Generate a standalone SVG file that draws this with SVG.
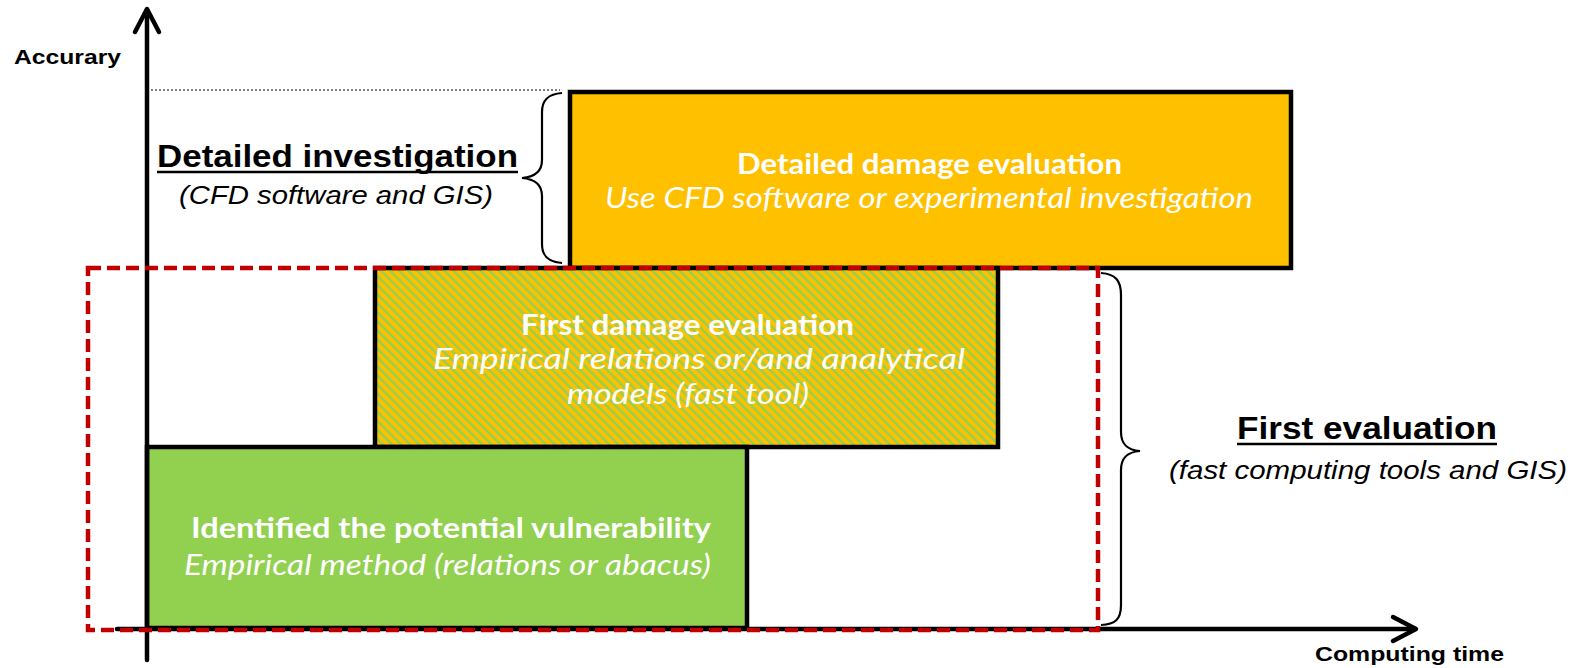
<svg xmlns="http://www.w3.org/2000/svg" width="1580" height="668" viewBox="0 0 1580 668">
<defs>
<pattern id="hatch" patternUnits="userSpaceOnUse" width="6.4" height="10" patternTransform="rotate(-45)">
<rect x="0" y="0" width="6.4" height="10" fill="#FFC000"/>
<rect x="0" y="0" width="2.4" height="10" fill="#92D050"/>
</pattern>
<style>
.box{stroke:#000;stroke-width:4.5}
.bt{font-family:Lato,"Open Sans",sans-serif;font-size:28px;fill:#fff;text-anchor:start}
.b{font-weight:bold}
.i{font-style:italic}
.lab{font-family:"Liberation Sans",Arial,sans-serif;fill:#000}
.ax{stroke:#000;stroke-width:4.5;fill:none;stroke-linecap:round;stroke-linejoin:round}
.brace{stroke:#000;stroke-width:2.2;fill:none}
</style>
</defs>
<rect width="1580" height="668" fill="#fff"/>

<line x1="151" y1="90" x2="560" y2="90" stroke="#555" stroke-width="1.5" stroke-dasharray="2 2"/>

<g id="detailed-damage">
<rect class="box" x="570" y="92" width="721" height="176" fill="#FFC000"/>
<text class="bt b" x="737" y="174" textLength="385" lengthAdjust="spacingAndGlyphs">Detailed damage evaluation</text>
<text class="bt i" x="605" y="208" textLength="648" lengthAdjust="spacingAndGlyphs">Use CFD software or experimental investigation</text>
</g>

<g id="first-damage">
<rect class="box" x="375" y="268" width="623" height="179" fill="url(#hatch)"/>
<text class="bt b" x="521" y="335" textLength="333" lengthAdjust="spacingAndGlyphs">First damage evaluation</text>
<text class="bt i" x="433" y="369" textLength="532" lengthAdjust="spacingAndGlyphs">Empirical relations or/and analytical</text>
<text class="bt i" x="567" y="404" textLength="242" lengthAdjust="spacingAndGlyphs">models (fast tool)</text>
</g>

<g id="potential-vulnerability">
<rect class="box" x="147" y="447" width="600" height="181" fill="#92D050"/>
<text class="bt b" x="191" y="538" textLength="520" lengthAdjust="spacingAndGlyphs">Identified the potential vulnerability</text>
<text class="bt i" x="184" y="575" textLength="527" lengthAdjust="spacingAndGlyphs">Empirical method (relations or abacus)</text>
</g>

<g id="axes">
<line class="ax" x1="147" y1="660" x2="147" y2="10"/>
<polyline class="ax" points="135,32 147,9 159,32"/>
<line class="ax" x1="117" y1="629" x2="1415" y2="629"/>
<polyline class="ax" points="1393,617 1416,629 1393,641"/>
<text class="lab b" x="14" y="64" font-size="21" textLength="107" lengthAdjust="spacingAndGlyphs">Accurary</text>
<text class="lab b" x="1315" y="661" font-size="21" textLength="189" lengthAdjust="spacingAndGlyphs">Computing time</text>
</g>

<g id="first-evaluation-frame">
<rect x="88" y="268" width="1010" height="362" fill="none" stroke="#C00000" stroke-width="4.5" stroke-dasharray="13 6"/>
</g>

<g id="detailed-investigation">
<path class="brace" d="M562,93 C548,94 542,100 542,112 L542,160 C542,172 534,177 522,178 C534,179 542,184 542,196 L542,244 C542,256 548,262 562,263"/>
<text class="lab b" x="157" y="167" font-size="31" textLength="361" lengthAdjust="spacingAndGlyphs">Detailed investigation</text>
<line x1="157" y1="172" x2="518" y2="172" stroke="#000" stroke-width="2.5"/>
<text class="lab i" x="179" y="204" font-size="25" textLength="314" lengthAdjust="spacingAndGlyphs">(CFD software and GIS)</text>
</g>

<g id="first-evaluation">
<path class="brace" d="M1101,273 C1115,274 1121,280 1121,295 L1121,432 C1121,445 1128,450 1140,451 C1128,452 1121,457 1121,470 L1121,605 C1121,620 1115,624 1101,625"/>
<text class="lab b" x="1237" y="439" font-size="31" textLength="260" lengthAdjust="spacingAndGlyphs">First evaluation</text>
<line x1="1237" y1="444" x2="1497" y2="444" stroke="#000" stroke-width="2.5"/>
<text class="lab i" x="1169" y="479" font-size="25" textLength="398" lengthAdjust="spacingAndGlyphs">(fast computing tools and GIS)</text>
</g>
</svg>
